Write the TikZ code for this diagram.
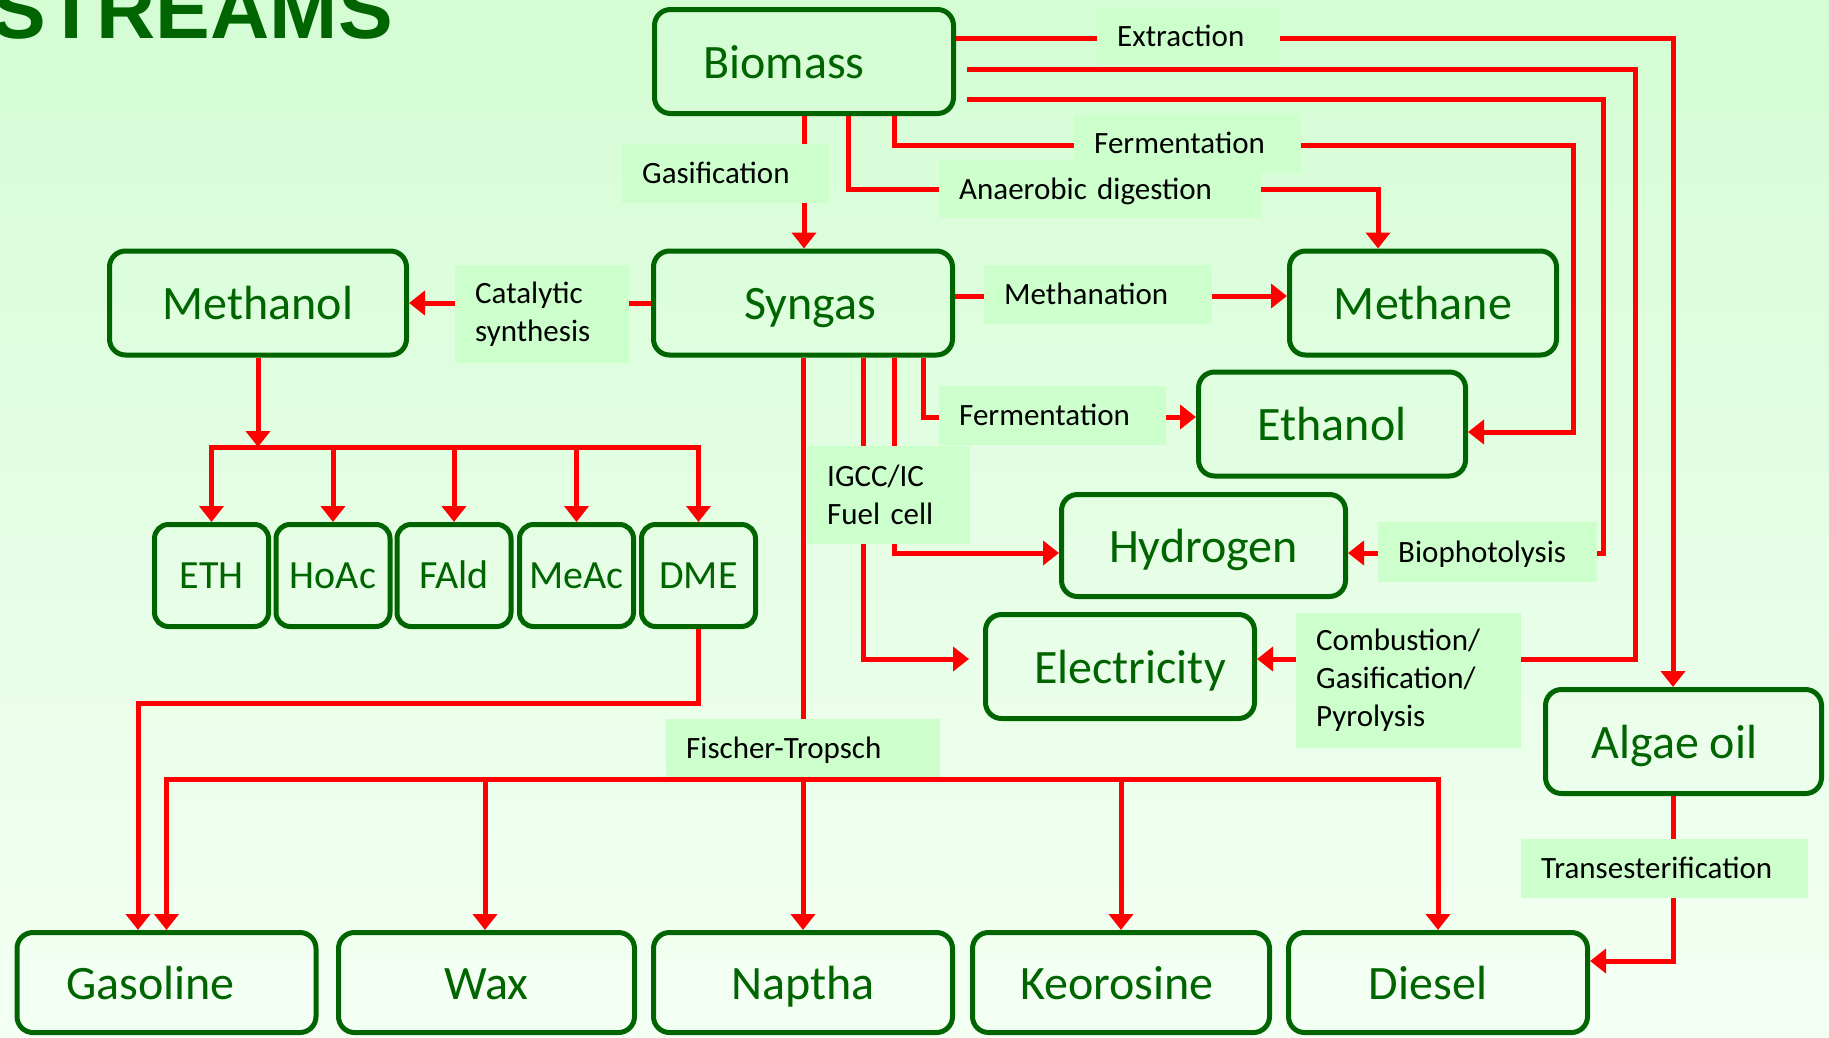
\documentclass[tikz,border=0pt]{standalone}
\usepackage{fontspec}
\setmainfont{Carlito}
\newfontfamily\titlefont{Liberation Sans}
\usetikzlibrary{arrows.meta}
\definecolor{bgreen}{RGB}{0,100,0}
\definecolor{lblfill}{RGB}{204,255,204}
\definecolor{bgtop}{RGB}{212,253,212}
\definecolor{bgbot}{RGB}{244,255,244}
\definecolor{lnred}{RGB}{255,0,0}
\tikzset{
  box/.style={draw=bgreen, line width=5pt, rounded corners=16pt, inner sep=0pt,
    text=bgreen, font=\fontsize{48}{52}\selectfont, text height=35pt, text depth=2pt},
  bigbox/.style={box, minimum width=299pt, minimum height=104pt},
  smallbox/.style={box, minimum width=114pt, minimum height=102pt, rounded corners=14pt,
    font=\fontsize{40}{44}\selectfont, text height=27pt, text depth=2pt},
  boxtxt/.style={text=bgreen, font=\fontsize{48}{52}\selectfont, inner sep=0pt,
    text height=35pt, text depth=2pt},
  lbl/.style={fill=lblfill, anchor=north west, inner xsep=20pt, inner ysep=0pt,
    text=black, align=left, font=\fontsize{31}{38}\selectfont},
  lbl1/.style={lbl, text height=22pt, text depth=2pt},
  ln/.style={draw=lnred, line width=5pt},
  arr/.style={ln, -{Triangle[length=16pt,width=24pt]}},
}
\begin{document}
\begin{tikzpicture}[x=1pt,y=-1pt]
\useasboundingbox (0,0) rectangle (1829,1037);
\shade[top color=bgtop, bottom color=bgbot] (0,0) rectangle (1829,1037);

% title (cut off at top, as in the reference)
\node[anchor=base east, inner sep=0pt, text=bgreen,
  font=\titlefont\bfseries\fontsize{82}{90}\selectfont] (title) at (393,38) {STREAMS};

% main boxes
\node[bigbox, label={[boxtxt,xshift=-20pt]center:Biomass}] (biomass) at (804,61.5) {};
\node[bigbox, minimum width=297pt] (methanol) at (258,303) {Methanol};
\node[bigbox, label={[boxtxt,xshift=7pt]center:Syngas}] (syngas) at (803,303) {};
\node[bigbox, minimum width=267pt] (methane) at (1423,303) {Methane};
\node[bigbox, minimum width=267pt] (ethanol) at (1332,424) {Ethanol};
\node[bigbox, minimum width=284pt, minimum height=102pt] (hydrogen) at (1203.5,545.5) {Hydrogen};
\node[bigbox, minimum width=269pt, label={[boxtxt,xshift=10pt]center:Electricity}] (electricity) at (1120,666.5) {};
\node[bigbox, minimum width=276pt, label={[boxtxt,xshift=-9pt]center:Algae oil}] (algae) at (1683.5,741.5) {};

% methanol products
\node[smallbox] (eth)  at (211.5,575.5) {ETH};
\node[smallbox] (hoac) at (333,575.5) {HoAc};
\node[smallbox] (fald) at (454,575.5) {FAld};
\node[smallbox] (meac) at (576.5,575.5) {MeAc};
\node[smallbox] (dme)  at (698.5,575.5) {DME};

% fuels
\node[bigbox, minimum height=100pt, label={[boxtxt,xshift=-16pt]center:Gasoline}] (gasoline) at (166.5,982.5) {};
\node[bigbox, minimum width=296pt, minimum height=100pt] (wax) at (486.5,982.5) {Wax};
\node[bigbox, minimum height=100pt] (naptha) at (803,982.5) {Naptha};
\node[bigbox, minimum width=297pt, minimum height=100pt, label={[boxtxt,xshift=-4pt]center:Keorosine}] (keor) at (1121,982.5) {};
\node[bigbox, minimum height=100pt, label={[boxtxt,xshift=-10pt]center:Diesel}] (diesel) at (1438,982.5) {};

% connectors from Biomass
\draw[arr] (biomass.south) -- (biomass.south |- syngas.north);
\draw[arr] ([xshift=44pt]biomass.south) |- (1378,189) -- ([xshift=-45pt]methane.north);
\draw[arr] ([xshift=90pt]biomass.south) |- (1573,145) |- ([yshift=-8pt]ethanol.east);
\draw[arr] ([xshift=11pt,yshift=-37.5pt]biomass.east) -| (1603,553) -- ([yshift=-7.5pt]hydrogen.east);
\draw[arr] ([xshift=11pt,yshift=-7.5pt]biomass.east) -| (1635,659) -- ([yshift=7.5pt]electricity.east);
\draw[arr] ([yshift=23.5pt]biomass.east) -| ([xshift=-10.5pt]algae.north);

% connectors from Syngas
\draw[arr] (syngas.west) -- (methanol.east);
\draw[arr] ([yshift=7pt]syngas.east) -- ([yshift=7pt]methane.west);
\draw[arr] ([xshift=120pt]syngas.south) |- ([yshift=7pt]ethanol.west);
\draw[arr] ([xshift=91pt]syngas.south) |- ([yshift=-7.5pt]hydrogen.west);
\draw[arr, shorten >=14pt] ([xshift=60pt]syngas.south) |- ([yshift=7.5pt]electricity.west);
\draw[arr] (syngas.south) -- (syngas.south |- naptha.north);

% Fischer-Tropsch bus
\coordinate (ftbus) at (803,779);
\draw[arr] (ftbus) -| (gasoline.north);
\draw[arr] (ftbus) -| ([xshift=-1.5pt]wax.north);
\draw[arr] (ftbus) -| (keor.north);
\draw[arr] (ftbus) -| (diesel.north);

% Methanol bus
\coordinate (mbus) at (258,447);
\draw[arr] (methanol.south) -- (mbus);
\draw[arr] (mbus) -| (eth.north);
\draw[arr] (mbus) -| (hoac.north);
\draw[arr] (mbus) -| (fald.north);
\draw[arr] (mbus) -| (meac.north);
\draw[arr] (mbus) -| (dme.north);

% DME to Gasoline
\draw[arr] (dme.south) |- (138,703) -- ([xshift=-28.5pt]gasoline.north);

% Algae oil to Diesel
\draw[arr] ([xshift=-10.5pt]algae.south) |- ([yshift=21.5pt]diesel.east);

% process labels
\node[lbl1, text width=143pt, minimum height=57pt] (lextr) at (1097,8) {Extraction};
\node[lbl1, text width=167pt, minimum height=59pt] (lgasi) at (622,144) {Gasification};
\node[lbl1, text width=187pt, minimum height=59pt] (lferm1) at (1074,114) {Fermentation};
\node[lbl1, text width=282pt, minimum height=58pt] (lanae) at (939,160) {Anaerobic digestion};
\node[lbl, text width=134pt, minimum height=98pt] (lcata) at (455,265) {Catalytic\\synthesis};
\node[lbl1, text width=188pt, minimum height=59pt] (lmeth) at (984,265) {Methanation};
\node[lbl1, text width=187pt, minimum height=59pt] (lferm2) at (939,386) {Fermentation};
\node[lbl, text width=123pt, minimum height=98pt] (ligcc) at (807,446) {IGCC/IC\\Fuel cell};
\node[lbl1, text width=179pt, minimum height=60pt] (lbioph) at (1378,522) {Biophotolysis};
\node[lbl, text width=185pt, minimum height=135pt] (lcomb) at (1296,613) {Combustion/\\Gasification/\\Pyrolysis};
\node[lbl1, text width=234pt, minimum height=58pt] (lft) at (666,719) {Fischer-Tropsch};
\node[lbl1, text width=247pt, minimum height=59pt] (ltrans) at (1521,839) {Transesterification};
\end{tikzpicture}
\end{document}
